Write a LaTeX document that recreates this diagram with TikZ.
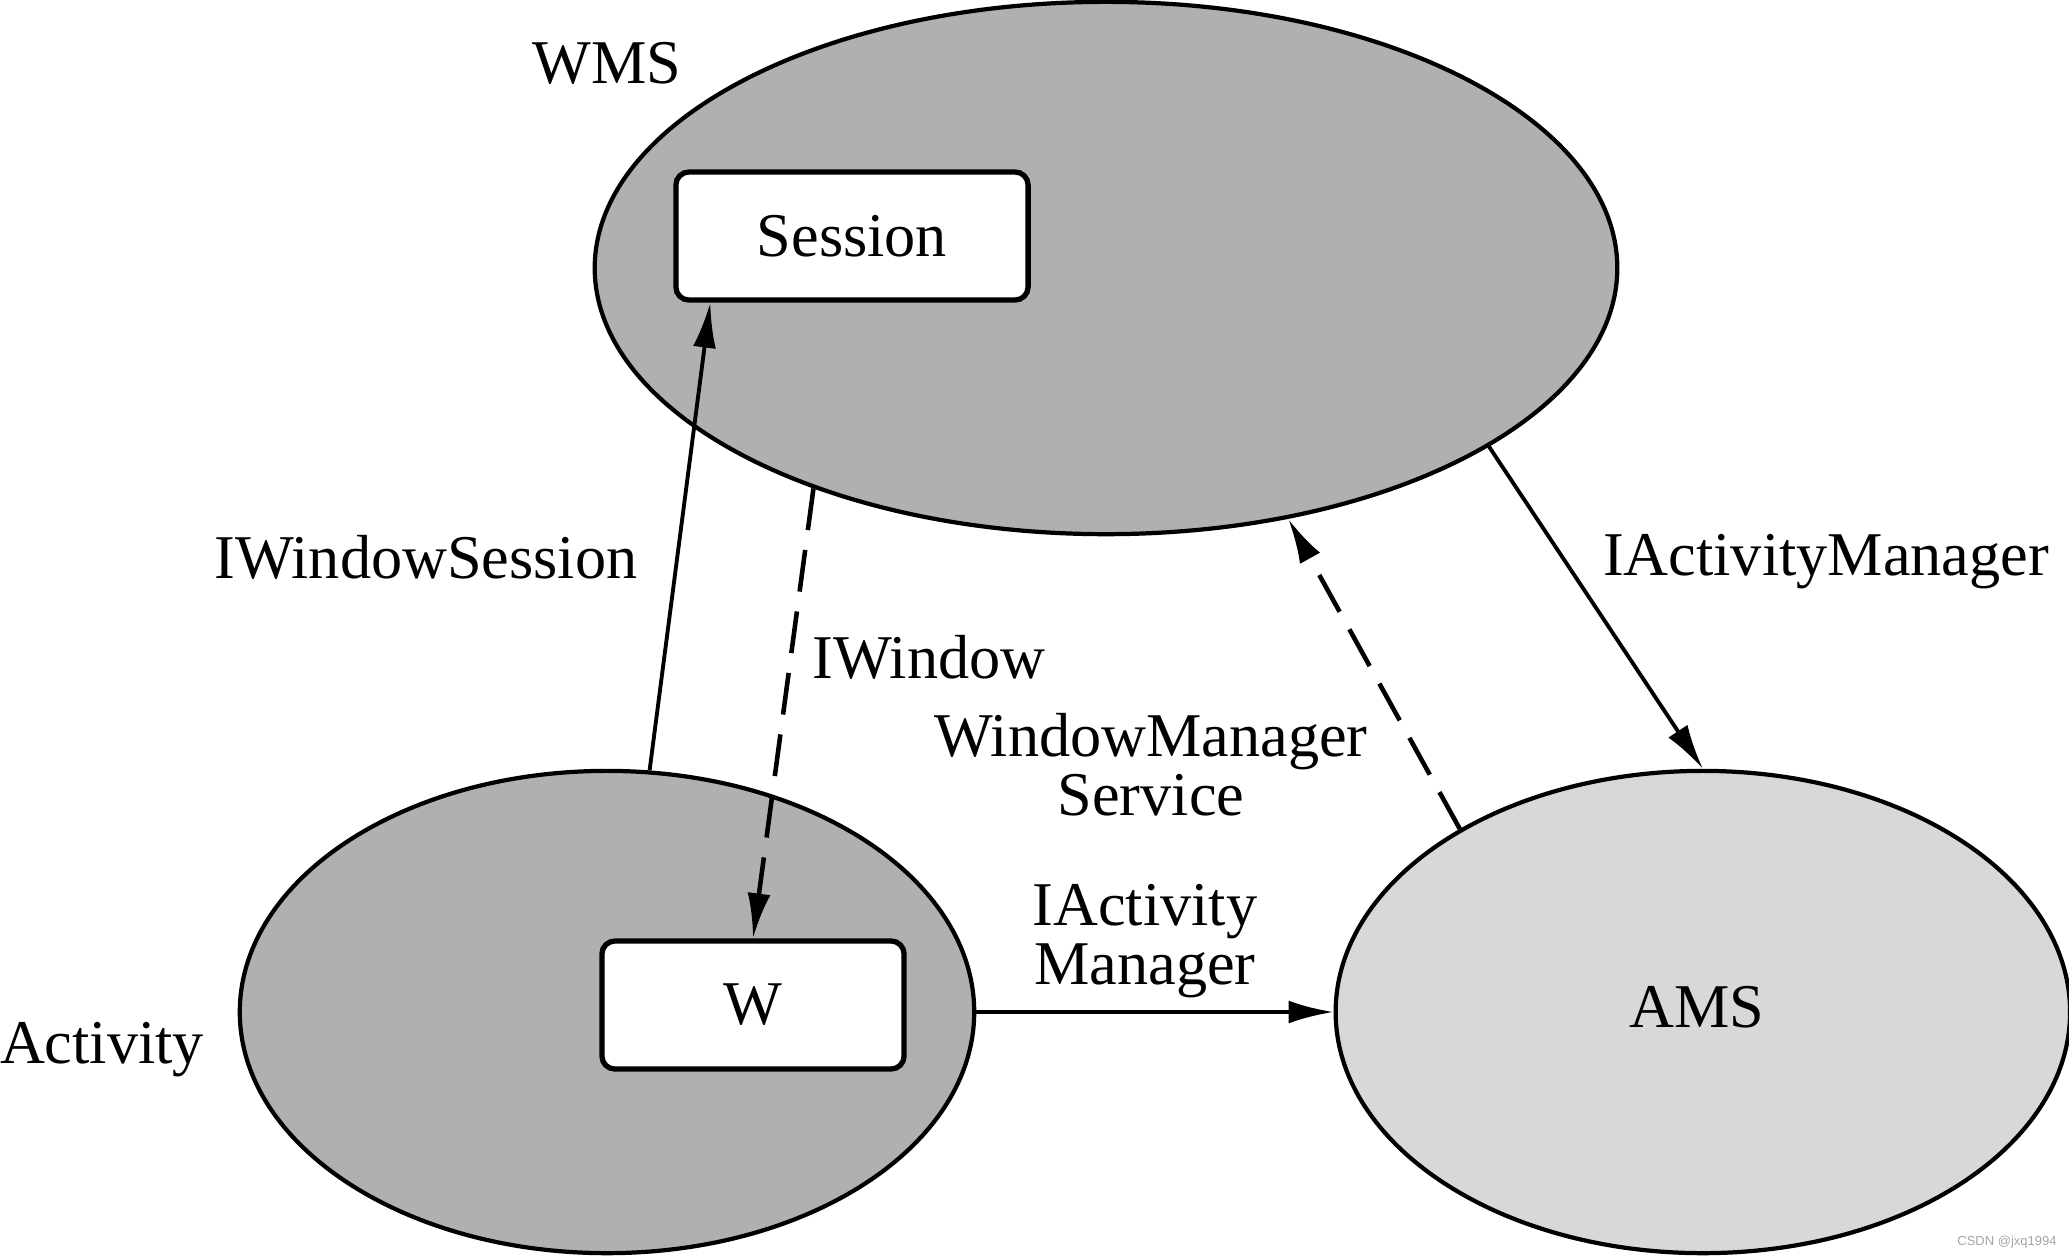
\documentclass[tikz,border=0pt]{standalone}
\usepackage{fontspec}
\setmainfont{Liberation Serif}
\setsansfont{Liberation Sans}
\usepackage{tikz}
\usetikzlibrary{arrows.meta,positioning,shapes.geometric}
\definecolor{darkfill}{RGB}{176,176,176}
\definecolor{lightfill}{RGB}{216,216,216}
\definecolor{markgray}{RGB}{165,165,165}

\begin{document}
\begin{tikzpicture}[x=0.01cm,y=-0.01cm,
  every node/.style={font=\fontsize{17.7}{16.8}\selectfont,inner sep=0pt},
  proc/.style={ellipse,draw,line width=1.2pt},
  box/.style={rectangle,rounded corners=0.13cm,draw,fill=white,line width=1.5pt,minimum height=1.28cm},
  call/.style={line width=1.1pt,-{Latex[length=4.5mm,width=2.3mm]}},
  back/.style={call,line width=1.3pt,dash pattern=on 0.42cm off 0.2cm}]
\useasboundingbox (0,0) rectangle (2069,1256);
\node (wms) [proc,fill=darkfill,minimum width=10.22cm,minimum height=5.32cm] at (1106,268) {};
\node (act) [proc,fill=darkfill,minimum width=7.34cm,minimum height=4.82cm] at (607,1012) {};
\node (ams) [proc,fill=lightfill,minimum width=7.34cm,minimum height=4.82cm,right=3.57cm of act] {};
\node (amslabel) at (1697,1007) {AMS};
\node (session) [box,minimum width=3.52cm] at (852,236) {Session};
\node (w) [box,minimum width=3.02cm] at (753,1005) {W};
\node (wmslabel) at (607,63) {WMS};
\node (actlabel) at (102,1050) {Activity};
\node (sessionlabel) at (426,557) {IWindowSession};
\node (windowlabel) at (929,657) {IWindow};
\node (wmslink) [align=center] at (1151,765) {WindowManager\\Service};
\node (amscall) at (1826,562) {IActivityManager};
\node (amslink) [align=center] at (1145,941) {IActivity\\Manager};
\node (mark) [font=\fontsize{3.7}{4}\selectfont\sffamily,text=markgray] at (2007,1242) {CSDN @jxq1994};
\draw[call] (act.80) -- ([xshift=0.37cm]session.south west);
\draw[back] (wms.217) -- (w.north);
\draw[back] (ams.143) -- (wms.306);
\draw[call] (wms.335) -- (ams.north);
\draw[call] (act.east) -- (ams.west);
\end{tikzpicture}
\end{document}
